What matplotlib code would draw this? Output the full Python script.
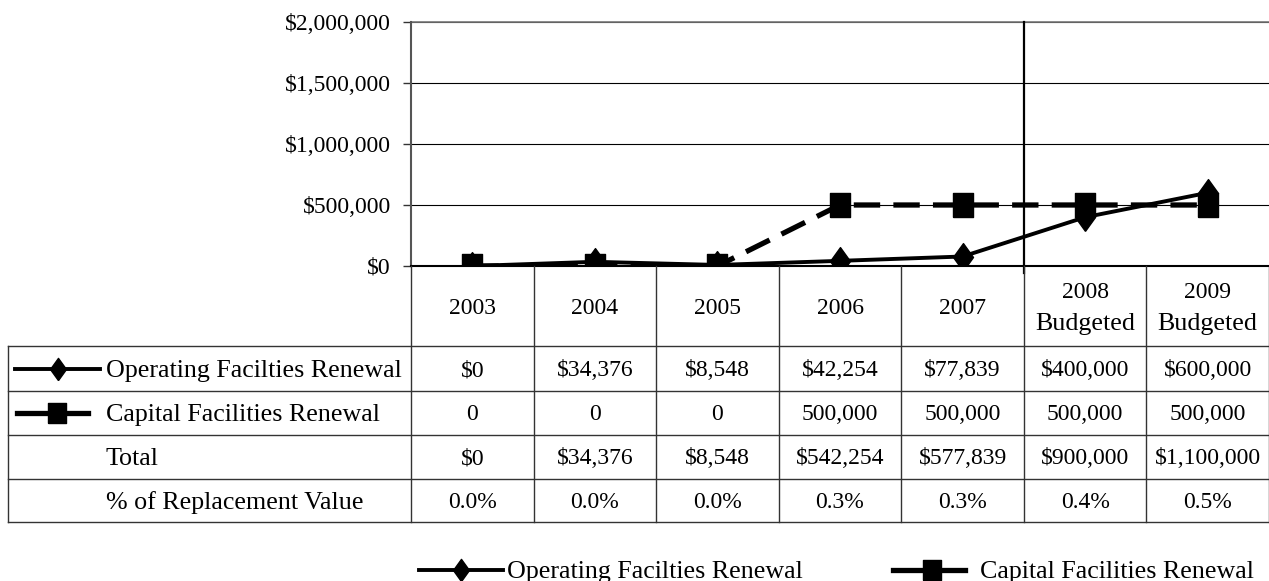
"""Facilities renewal spending 2003-2009 — line chart with Excel-style data table."""

import matplotlib
matplotlib.use("Agg")
import matplotlib.pyplot as plt
from matplotlib.ticker import FuncFormatter, MultipleLocator

plt.rcParams["font.family"] = ["Liberation Serif", "DejaVu Serif"]
plt.rcParams["font.size"] = 17
WORD_FS = 18.7  # words in the original render a bit wider than the digits

# ---- data -----------------------------------------------------------------
years = ["2003", "2004", "2005", "2006", "2007", "2008", "2009"]
year_notes = ["", "", "", "", "", "Budgeted", "Budgeted"]
operating = [0, 34376, 8548, 42254, 77839, 400000, 600000]
capital = [0, 0, 0, 500000, 500000, 500000, 500000]
total = [0, 34376, 8548, 542254, 577839, 900000, 1100000]
pct_replacement = [0.0, 0.0, 0.0, 0.3, 0.3, 0.4, 0.5]

row_labels = ["Operating Facilties Renewal", "Capital Facilities Renewal",
              "Total", "% of Replacement Value"]

# ---- layout (pixels) ------------------------------------------------------
W, H = 1269, 581
PLOT_L, PLOT_R, PLOT_T, PLOT_B = 411, 1269, 22, 266
TABLE_L = 8
ROW_Y = [346, 391, 435, 479, 522]
LINE_C = "#333333"
TXT_DY = 2  # nudge text down a little so it sits centred like the original

# tall markers, like the stretched Excel ones
sq = [(-0.43, -0.5), (0.43, -0.5), (0.43, 0.5), (-0.43, 0.5), (-0.43, -0.5)]
dia = [(0, -0.5), (0.36, 0), (0, 0.5), (-0.36, 0), (0, -0.5)]

fig = plt.figure(figsize=(W / 100, H / 100), dpi=100)
ax = fig.add_axes([PLOT_L / W, 1 - PLOT_B / H, (PLOT_R - PLOT_L) / W, (PLOT_B - PLOT_T) / H])

x = list(range(len(years)))
ax.plot(x, capital, color="black", lw=3.8, dashes=(5, 2.5),
        marker=sq, markersize=17, zorder=3)
ax.plot(x, operating, color="black", lw=2.8, marker=dia, markersize=20, zorder=4)

ax.set_xlim(-0.5, len(years) - 0.5)
ax.set_ylim(0, 2000000)
ax.yaxis.set_major_locator(MultipleLocator(500000))
ax.yaxis.set_major_formatter(FuncFormatter(lambda v, _: f"${v:,.0f}"))
ax.grid(axis="y", color="black", lw=0.8)
ax.set_axisbelow(True)
ax.set_xticks([])
ax.tick_params(axis="y", length=6, width=1, color=LINE_C, pad=8.5)
for s in ("top", "right"):
    ax.spines[s].set_visible(False)
ax.spines["left"].set_color("#555555")
ax.spines["left"].set_linewidth(1.5)
ax.spines["bottom"].set_color("black")
ax.spines["bottom"].set_linewidth(1.5)
ax.axhline(2000000, color="#777777", lw=1.2, clip_on=False)

# ---- overlay in pixel coordinates for the data table ----------------------
ov = fig.add_axes([0, 0, 1, 1], zorder=5)
ov.set_xlim(0, W)
ov.set_ylim(H, 0)
ov.axis("off")

col_w = (PLOT_R - PLOT_L) / len(years)
centers = [PLOT_L + (i + 0.5) * col_w for i in range(len(years))]

# actual vs budgeted divider
ov.plot([PLOT_L + 5 * col_w] * 2, [PLOT_T, 273], color="black", lw=1.6)

# grid of the table
for y in ROW_Y:
    ov.plot([TABLE_L, PLOT_R - 0.5], [y, y], color=LINE_C, lw=1.0)
ov.plot([TABLE_L, TABLE_L], [ROW_Y[0], ROW_Y[-1]], color=LINE_C, lw=1.0)
for i in range(len(years) + 1):
    xb = min(PLOT_L + i * col_w, PLOT_R - 0.5)
    ov.plot([xb, xb], [PLOT_B, ROW_Y[-1]], color=LINE_C, lw=1.0)

# header
hy = (PLOT_B + ROW_Y[0]) / 2 + TXT_DY
for cx, yr, note in zip(centers, years, year_notes):
    if note:
        ov.text(cx, hy - 16, yr, ha="center", va="center")
        ov.text(cx, hy + 16, note, ha="center", va="center", fontsize=WORD_FS)
    else:
        ov.text(cx, hy, yr, ha="center", va="center")

cells = [
    [f"${v:,}" for v in operating],
    [f"{v:,}" for v in capital],
    [f"${v:,}" for v in total],
    [f"{p:.1f}%" for p in pct_replacement],
]
for r, (label, vals) in enumerate(zip(row_labels, cells)):
    yc = (ROW_Y[r] + ROW_Y[r + 1]) / 2 + TXT_DY
    ov.text(106, yc, label, ha="left", va="center", fontsize=WORD_FS)
    for cx, v in zip(centers, vals):
        ov.text(cx, yc, v, ha="center", va="center")


def handle(x0, x1, xm, y, kind):
    if kind == "op":
        ov.plot([x0, x1], [y, y], color="black", lw=2.8)
        ov.plot([xm], [y], color="black", marker=dia, markersize=16, lw=0)
    else:
        ov.plot([x0, x1], [y, y], color="black", lw=3.8)
        ov.plot([xm], [y], color="black", marker=sq, markersize=15, lw=0)


handle(15, 100, 58, (ROW_Y[0] + ROW_Y[1]) / 2, "op")
handle(17, 88, 57, (ROW_Y[1] + ROW_Y[2]) / 2, "cap")

# bottom legend
handle(419, 503, 461, 570, "op")
ov.text(507, 570 + TXT_DY, row_labels[0], ha="left", va="center", fontsize=WORD_FS)
handle(893, 965, 932, 570, "cap")
ov.text(980, 570 + TXT_DY, row_labels[1], ha="left", va="center", fontsize=WORD_FS)

fig.savefig("out.png", dpi=100)
